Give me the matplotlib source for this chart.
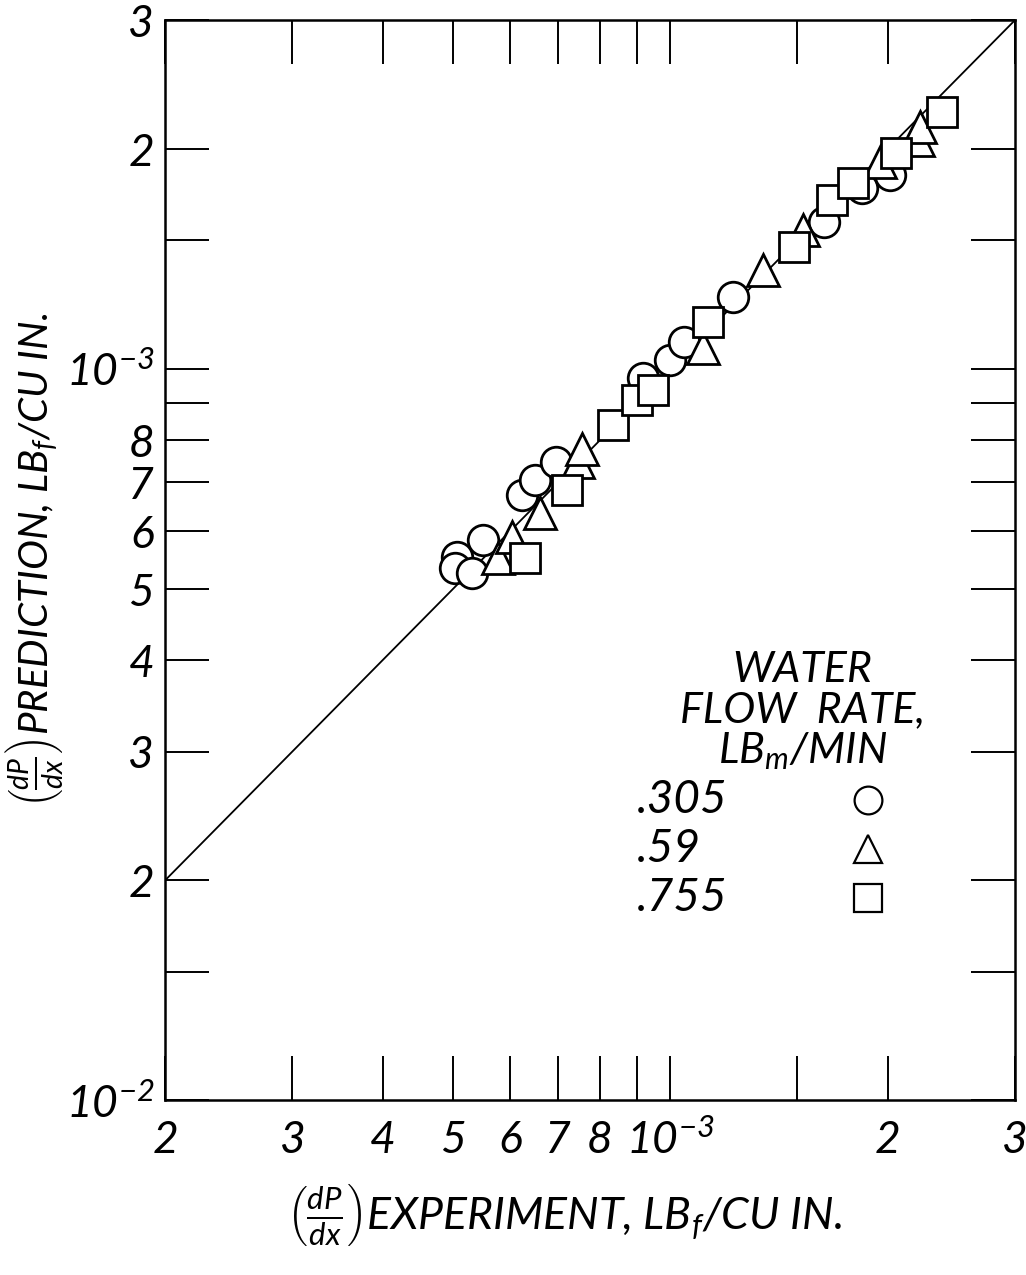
import matplotlib
matplotlib.use("Agg")
import matplotlib.pyplot as plt
from matplotlib.ticker import FixedLocator, FixedFormatter, NullLocator

plt.rcParams['font.family'] = ['Lato', 'DejaVu Sans']
plt.rcParams['font.style'] = 'italic'
plt.rcParams['mathtext.fontset'] = 'custom'
plt.rcParams['mathtext.it'] = 'Lato:italic'
plt.rcParams['mathtext.rm'] = 'Lato:italic'
plt.rcParams['mathtext.default'] = 'it'

# experiment vs prediction, lbf/cu in
circ_x = [5.07e-4, 5.04e-4, 5.32e-4, 5.50e-4, 6.23e-4, 6.50e-4, 6.95e-4,
          9.17e-4, 9.99e-4, 1.044e-3, 1.221e-3, 1.636e-3, 1.841e-3, 2.013e-3]
circ_y = [5.53e-4, 5.34e-4, 5.26e-4, 5.84e-4, 6.72e-4, 7.05e-4, 7.46e-4,
          9.72e-4, 1.029e-3, 1.089e-3, 1.254e-3, 1.588e-3, 1.769e-3, 1.842e-3]

tri_x = [5.78e-4, 6.04e-4, 6.60e-4, 7.45e-4, 7.55e-4, 1.109e-3, 1.343e-3,
         1.526e-3, 1.950e-3, 2.201e-3, 2.215e-3]
tri_y = [5.51e-4, 5.89e-4, 6.35e-4, 7.46e-4, 7.79e-4, 1.068e-3, 1.366e-3,
         1.550e-3, 1.919e-3, 2.057e-3, 2.144e-3]

sq_x = [6.29e-4, 7.19e-4, 8.33e-4, 8.99e-4, 9.46e-4, 1.127e-3, 1.483e-3,
        1.678e-3, 1.789e-3, 2.058e-3, 2.383e-3]
sq_y = [5.51e-4, 6.83e-4, 8.38e-4, 9.07e-4, 9.36e-4, 1.160e-3, 1.468e-3,
        1.703e-3, 1.797e-3, 1.975e-3, 2.246e-3]

line_x = [2e-4, 3e-3]
line_y = [2e-4, 3e-3]

flow_labels = ['.305', '.59', '.755']
flow_markers = ['o', '^', 's']

x_ticks = [2e-4, 3e-4, 4e-4, 5e-4, 6e-4, 7e-4, 8e-4, 9e-4, 1e-3, 1.5e-3, 2e-3, 3e-3]
x_labels = ['2', '3', '4', '5', '6', '7', '8', '', '$10^{-3}$', '', '2', '3']
y_ticks = [1e-4, 1.5e-4, 2e-4, 3e-4, 4e-4, 5e-4, 6e-4, 7e-4, 8e-4, 9e-4, 1e-3,
           1.5e-3, 2e-3, 3e-3]
y_labels = ['$10^{-2}$', '', '2', '3', '4', '5', '6', '7', '8', '', '$10^{-3}$',
            '', '2', '3']

fig = plt.figure(figsize=(10.26, 12.75), dpi=100)
ax = fig.add_axes([0.161, 0.137, 0.828, 0.847])
ax.set_xscale('log')
ax.set_yscale('log')
ax.set_xlim(2e-4, 3e-3)
ax.set_ylim(1e-4, 3e-3)

ax.plot(line_x, line_y, color='black', lw=1.3, zorder=1)

mk = dict(linestyle='none', markerfacecolor='white', markeredgecolor='black',
          markeredgewidth=2.0, zorder=3)
ax.plot(circ_x, circ_y, marker='o', markersize=22, **mk)
ax.plot(tri_x, tri_y, marker='^', markersize=23, **mk)
ax.plot(sq_x, sq_y, marker='s', markersize=21, **mk)

ax.xaxis.set_major_locator(FixedLocator(x_ticks))
ax.xaxis.set_major_formatter(FixedFormatter(x_labels))
ax.xaxis.set_minor_locator(NullLocator())
ax.yaxis.set_major_locator(FixedLocator(y_ticks))
ax.yaxis.set_major_formatter(FixedFormatter(y_labels))
ax.yaxis.set_minor_locator(NullLocator())
ax.tick_params(which='both', direction='in', length=32, width=1.4,
               top=True, right=True, labelsize=32)
ax.tick_params(axis='x', pad=14)
ax.tick_params(axis='y', pad=8)
for s in ax.spines.values():
    s.set_linewidth(1.8)

ax.set_xlabel(r'$\left(\frac{dP}{dx}\right)$EXPERIMENT, LB$_f$/CU IN.',
              fontsize=32)
ax.xaxis.set_label_coords(0.47, -0.075)
ax.set_ylabel(r'$\left(\frac{dP}{dx}\right)$PREDICTION, LB$_f$/CU IN.',
              fontsize=29)
ax.yaxis.set_label_coords(-0.118, 0.5)

# legend drawn by hand: title centred, values left, symbols right
ax.text(0.75, 0.36, 'WATER\nFLOW  RATE,\nLB$_m$/MIN', transform=ax.transAxes,
        ha='center', va='center', fontsize=31, linespacing=1.05)
leg_y = [0.278, 0.233, 0.187]
for lab, m, yy in zip(flow_labels, flow_markers, leg_y):
    ax.text(0.555, yy, lab, transform=ax.transAxes, ha='left', va='center',
            fontsize=33)
    ax.plot([0.827], [yy], marker=m, markersize=20, linestyle='none',
            markerfacecolor='white', markeredgecolor='black',
            markeredgewidth=1.6, transform=ax.transAxes, clip_on=False)

fig.savefig('out.png', dpi=100)
